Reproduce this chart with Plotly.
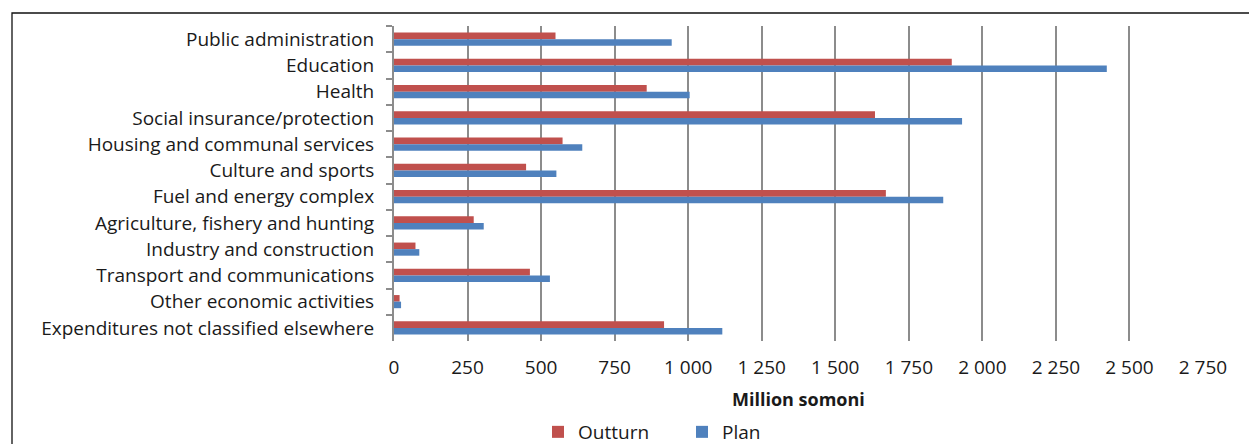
import plotly.graph_objects as go

# Budget expenditure by function, million somoni
categories = [
    "Public administration",
    "Education",
    "Health",
    "Social insurance/protection",
    "Housing and communal services",
    "Culture and sports",
    "Fuel and energy complex",
    "Agriculture, fishery and hunting",
    "Industry and construction",
    "Transport and communications",
    "Other economic activities",
    "Expenditures not classified elsewhere",
]
outturn = [549, 1896, 859, 1635, 573, 449, 1672, 271, 73, 462, 19, 918]
plan = [944, 2423, 1005, 1931, 640, 552, 1867, 305, 86, 530, 24, 1116]

x_ticks = [0, 250, 500, 750, 1000, 1250, 1500, 1750, 2000, 2250, 2500, 2750]

RED = "#C0504D"
BLUE = "#4F81BD"
GRID = "#8C8C8C"
FONT = "Open Sans"
FS = 19

fig = go.Figure()
fig.add_trace(go.Bar(y=categories, x=outturn, name="Outturn", orientation="h",
                     marker=dict(color=RED, line=dict(width=0))))
fig.add_trace(go.Bar(y=categories, x=plan, name="Plan", orientation="h",
                     marker=dict(color=BLUE, line=dict(width=0))))

L, R, T, B = 394, 1249 - 1203, 26, 444 - 341
W, H = 1249, 444
pw, ph = W - L - R, H - T - B

def px_x(p):
    return (p - L) / pw

def px_y(p):
    return (H - B - p) / ph

fig.update_layout(
    width=W, height=H,
    margin=dict(l=L, r=R, t=T, b=B, pad=0, autoexpand=False),
    paper_bgcolor="white", plot_bgcolor="white",
    barmode="group", bargap=0.5, bargroupgap=0,
    separators=". ",
    font=dict(family=FONT, size=FS, color="#1a1a1a"),
    showlegend=True,
    legend=dict(orientation="h", x=px_x(538), xanchor="left",
                y=px_y(432), yanchor="middle",
                entrywidth=99, font=dict(size=FS),
                bgcolor="rgba(0,0,0,0)"),
    xaxis=dict(range=[0, 2750], tickvals=x_ticks, tickformat=",d",
               showgrid=True, gridcolor=GRID, gridwidth=1.6,
               zeroline=False, showline=False, ticks="",
               ticklabelstandoff=13, tickfont=dict(size=FS)),
    yaxis=dict(autorange="reversed", type="category",
               showline=True, linecolor=GRID, linewidth=2,
               ticks="outside", ticklen=6, tickcolor=GRID, tickwidth=1.6,
               tickson="boundaries", showgrid=False,
               ticklabelstandoff=14, tickfont=dict(size=FS)),
    annotations=[dict(text="<b>Million somoni</b>", xref="paper", yref="paper",
                      x=0.5, y=px_y(399), xanchor="center", yanchor="middle",
                      showarrow=False, font=dict(size=FS - 1))],
    shapes=[dict(type="rect", xref="paper", yref="paper",
                 x0=px_x(12), y0=px_y(470), x1=px_x(1270), y1=px_y(13),
                 line=dict(color="#111111", width=1.3), fillcolor="rgba(0,0,0,0)",
                 layer="below")],
)

fig.write_html("out.html")
